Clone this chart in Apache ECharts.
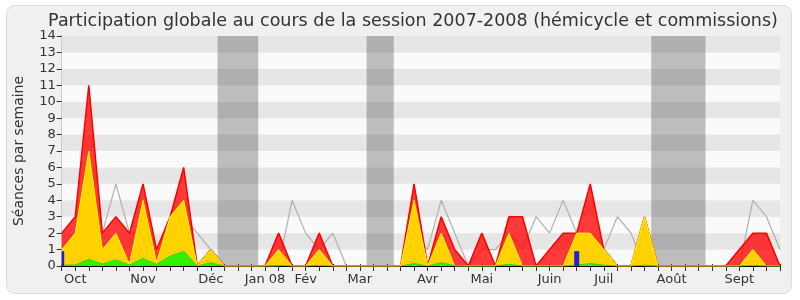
<!DOCTYPE html>
<html><head><meta charset="utf-8">
<script src="https://cdn.jsdelivr.net/npm/echarts@6/dist/echarts.min.js"></script>
<style>html,body{margin:0;padding:0;background:#fff}#c{width:800px;height:300px}</style>
</head><body><div id="c"></div>
<script>
const weekIndex = Array.from({length:54},(_,i)=>i);
const monthLabels = {1:'Oct',6:'Nov',11:'Déc',15:'Jan 08',18:'Fév',22:'Mar',27:'Avr',31:'Mai',36:'Juin',40:'Juil',45:'Août',50:'Sept'};
const yTicks = [0,1,2,3,4,5,6,7,8,9,10,11,12,13,14];
const vacations = [[11.5,14.5],[22.5,24.5],[43.5,47.5]];
const red = [2,3,11,2,3,2,5,1,3,6,0,1,0,0,0,0,2,0,0,2,0,0,0,0,0,0,5,0,3,1,0,2,0,3,3,0,1,2,2,5,1,0,0,3,0,0,0,0,0,0,1,2,2,0];
const yellow = [1,2,7,1,2,0.1,4,0.2,3,4,0,1,0,0,0,0,1,0,0,1,0,0,0,0,0,0,4,0,2,0,0,0,0,2,0,0,0,0,2,2,1,0,0,3,0,0,0,0,0,0,0,1,0,0];
const green = [0.05,0.06,0.4,0.12,0.37,0.06,0.45,0.1,0.6,0.9,0,0.2,0,0,0,0,0.03,0,0,0.03,0,0,0,0,0,0,0.15,0,0.2,0.03,0,0,0,0.1,0,0,0,0,0.05,0.15,0.05,0,0,0.05,0,0,0,0,0,0,0,0.03,0,0];
const gray = [1,2,3,2,5,2,2,0,2,3,2,1,0,0,0,0,0,4,2,1,2,0,0,0,0,0,2,1,4,2,0,1,1,2,1,3,2,4,2,1,1,3,2,0,0,0,0,0,0,0,0,4,3,1];
const blueWeeks = [0,38];
const blueValues = [0.9,0.9];

const pts = a => a.map((v,i)=>[weekIndex[i],v]);
const font = 'DejaVu Sans';
const chart = echarts.init(document.getElementById('c'));
chart.setOption({
  backgroundColor:'#fff',
  animation:false,
  graphic:[{type:'rect',z:-10,shape:{x:6.5,y:5.5,width:785,height:288,r:8},style:{fill:'#F0F0F0',stroke:'#DCDCDC',lineWidth:1}}],
  title:{text:'Participation globale au cours de la session 2007-2008 (hémicycle et commissions)',left:408,top:7,textAlign:'center',
    textStyle:{fontFamily:font,fontSize:17.5,fontWeight:'normal',color:'#333'}},
  grid:{left:61.7,right:20,top:36,bottom:34},
  xAxis:[{type:'value',min:0,max:53,interval:1,
    axisLine:{show:true,lineStyle:{color:'#000'}},
    axisTick:{show:true,length:5,lineStyle:{color:'#333'}},
    axisLabel:{fontFamily:font,fontSize:13,color:'#333',margin:7,formatter:v=>monthLabels[v]||'',showMinLabel:true,showMaxLabel:true},
    splitLine:{show:false}},
   {type:'value',position:'top',min:0,max:53,interval:1,
    axisLine:{show:false},axisTick:{show:true,length:2,lineStyle:{color:'#333'}},axisLabel:{show:false},splitLine:{show:false}}],
  yAxis:[{type:'value',min:yTicks[0],max:yTicks[yTicks.length-1],interval:1,
    name:'Séances par semaine',nameLocation:'middle',nameGap:35,nameTextStyle:{fontFamily:font,fontSize:14,color:'#333'},
    axisLine:{show:true,lineStyle:{color:'#000'}},
    axisTick:{show:true,length:5,lineStyle:{color:'#333'}},
    axisLabel:{fontFamily:font,fontSize:13,color:'#333',margin:6},
    splitLine:{show:false},
    splitArea:{show:true,areaStyle:{color:['#FAFAFA','#E6E6E6']}}},
   {type:'value',position:'right',min:0,max:14,interval:1,axisLine:{show:true,lineStyle:{color:'#CCCCCC'}},axisTick:{show:false},axisLabel:{show:false},splitLine:{show:false}}],
  series:[
    {type:'line',name:'médiane',data:pts(gray),symbol:'none',z:1,lineStyle:{color:'#B0B0B0',width:1.2},
     markArea:{silent:true,itemStyle:{color:'rgba(50,50,50,0.3)'},data:vacations.map(v=>[{xAxis:v[0]},{xAxis:v[1]}])}},
    {type:'line',name:'total',data:pts(red),symbol:'none',z:2,lineStyle:{color:'#FF0000',width:1.5},areaStyle:{color:'rgba(255,0,0,0.77)',opacity:1}},
    {type:'line',name:'hémicycle',data:pts(yellow),symbol:'none',z:3,lineStyle:{color:'#FFFF00',width:1},areaStyle:{color:'#FFD200',opacity:1}},
    {type:'line',name:'interventions',data:pts(green),symbol:'none',z:4,lineStyle:{color:'#22DD00',width:1},areaStyle:{color:'#33EE00',opacity:1}},
    {type:'custom',name:'questions',z:5,data:blueWeeks.map((w,i)=>[w,blueValues[i]]),
     renderItem:(params,api)=>{
       const top=api.coord([api.value(0),api.value(1)]);
       const base=api.coord([api.value(0),0]);
       const cs=params.coordSys;
       const r=echarts.graphic.clipRectByRect({x:top[0]-2.5,y:top[1],width:5,height:base[1]-top[1]},{x:cs.x,y:cs.y,width:cs.width,height:cs.height});
       return r?{type:'rect',shape:r,style:{fill:'#2020DD'}}:null;
     }}
  ]
});
</script></body></html>
